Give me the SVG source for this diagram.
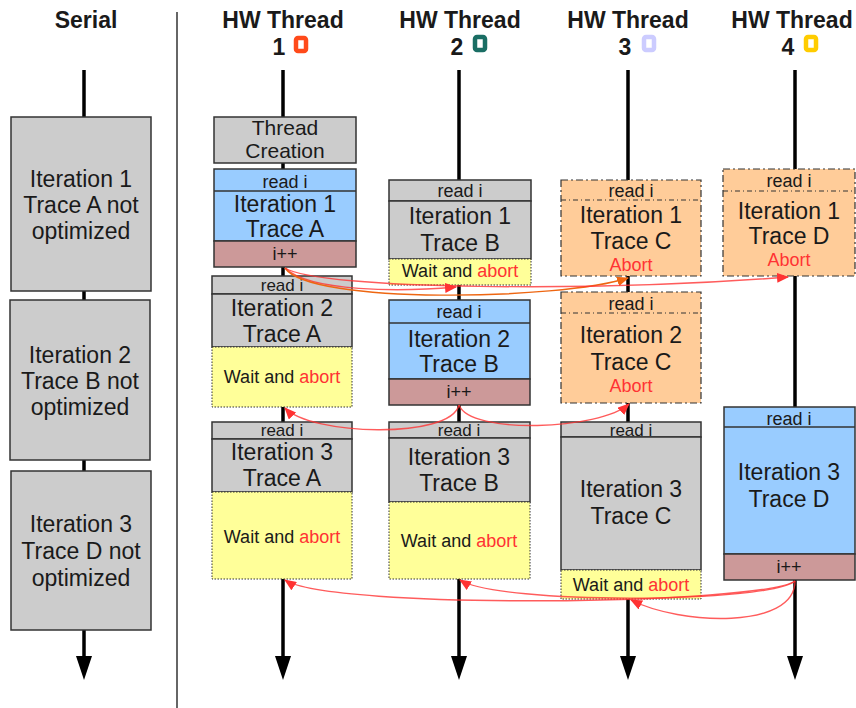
<svg xmlns="http://www.w3.org/2000/svg" width="856" height="708" viewBox="0 0 856 708">
<defs>
<style>
text{font-family:"Liberation Sans",Arial,sans-serif;fill:#1a1a1a;text-anchor:middle}
.h{font-size:23px;font-weight:bold}
.big{font-size:23px}
.mid{font-size:21px}
.sm{font-size:18px}
.xs{font-size:17px}
.red{fill:#ff3333}
.gray{fill:#cccccc;stroke:#333;stroke-width:1.5}
.blue{fill:#99ccff;stroke:#333;stroke-width:1.5}
.pink{fill:#cc9999;stroke:#333;stroke-width:1.5}
.yellow{fill:#ffff99;stroke:#333;stroke-width:1;stroke-dasharray:1.5,1.5}
.orange{fill:#ffcc99;stroke:#333;stroke-width:1.2;stroke-dasharray:7,3,2,3}
.div{stroke:#333;stroke-width:1.3}
.ddiv{stroke:#333;stroke-width:1;stroke-dasharray:5,3,1,3}
.tl{stroke:#000;stroke-width:3.5;fill:none}
.conn{fill:none;stroke:#ff3333;stroke-opacity:0.8;stroke-width:1.4}
.connO{fill:none;stroke:#ee6611;stroke-width:1.4}
.icon{fill:#fff;stroke-width:4.5}
</style>
<marker id="down" viewBox="0 0 24 16" refX="0" refY="8" markerWidth="24" markerHeight="16" markerUnits="userSpaceOnUse" orient="auto"><path d="M0,0 L24,8 L0,16 z" fill="#000"/></marker>
<marker id="ar" viewBox="0 0 12 10" refX="11" refY="5" markerWidth="12" markerHeight="10" markerUnits="userSpaceOnUse" orient="auto"><path d="M0,0 L12,5 L0,10 z" fill="#ff3333"/></marker>
<marker id="arO" viewBox="0 0 12 10" refX="11" refY="5" markerWidth="12" markerHeight="10" markerUnits="userSpaceOnUse" orient="auto"><path d="M0,0 L12,5 L0,10 z" fill="#ee6611"/></marker>
</defs>
<rect width="856" height="708" fill="#fff"/>

<!-- headers -->
<g id="headers">
<text class="h" x="86" y="28">Serial</text>
<text class="h" x="283" y="28">HW Thread</text>
<text class="h" x="279" y="55">1</text>
<rect class="icon" x="296" y="38" width="10" height="13" rx="2" stroke="#ff4a1a"/>
<text class="h" x="460" y="28">HW Thread</text>
<text class="h" x="457" y="55">2</text>
<rect class="icon" x="475" y="37" width="10" height="13" rx="2" stroke="#1a6e64"/>
<text class="h" x="628" y="28">HW Thread</text>
<text class="h" x="625" y="55">3</text>
<rect class="icon" x="644" y="37" width="10" height="13" rx="2" stroke="#ccccff"/>
<text class="h" x="792" y="28">HW Thread</text>
<text class="h" x="788" y="55">4</text>
<rect class="icon" x="806" y="37" width="10" height="13" rx="2" stroke="#ffcc00"/>
<line x1="177" y1="12" x2="177" y2="708" stroke="#333" stroke-width="1.5"/>
</g>

<!-- timelines -->
<g id="timelines">
<path class="tl" d="M84,70 V656" marker-end="url(#down)"/>
<path class="tl" d="M283,70 V656" marker-end="url(#down)"/>
<path class="tl" d="M459,70 V656" marker-end="url(#down)"/>
<path class="tl" d="M628,70 V656" marker-end="url(#down)"/>
<path class="tl" d="M795,70 V656" marker-end="url(#down)"/>
</g>

<!-- serial -->
<g id="serial1">
<rect class="gray" x="11" y="117" width="140" height="174"/>
<text class="big" x="81" y="187">Iteration 1</text>
<text class="big" x="81" y="213">Trace A not</text>
<text class="big" x="81" y="239">optimized</text>
</g>
<g id="serial2">
<rect class="gray" x="10" y="300" width="140" height="160"/>
<text class="big" x="80" y="363">Iteration 2</text>
<text class="big" x="80" y="389">Trace B not</text>
<text class="big" x="80" y="415">optimized</text>
</g>
<g id="serial3">
<rect class="gray" x="11" y="471" width="140" height="159"/>
<text class="big" x="81" y="532">Iteration 3</text>
<text class="big" x="81" y="559">Trace D not</text>
<text class="big" x="81" y="586">optimized</text>
</g>

<!-- thread 1 -->
<g id="t1-create">
<rect class="gray" x="214" y="117" width="142" height="46"/>
<text class="mid" x="285" y="135">Thread</text>
<text class="mid" x="285" y="158">Creation</text>
</g>
<g id="t1-it1">
<rect class="blue" x="214" y="169" width="142" height="72"/>
<line class="div" x1="214" y1="191" x2="356" y2="191"/>
<rect class="pink" x="214" y="241" width="142" height="26"/>
<text class="sm" x="285" y="188">read i</text>
<text class="big" x="285" y="212">Iteration 1</text>
<text class="big" x="285" y="237">Trace A</text>
<text class="sm" x="285" y="260">i++</text>
</g>
<g id="t1-it2">
<rect class="gray" x="212" y="276" width="140" height="18"/>
<rect class="gray" x="212" y="294" width="140" height="53"/>
<rect class="yellow" x="212" y="347" width="140" height="60"/>
<text class="xs" x="282" y="291">read i</text>
<text class="big" x="282" y="316">Iteration 2</text>
<text class="big" x="282" y="342">Trace A</text>
<text class="sm" x="282" y="383">Wait and <tspan class="red">abort</tspan></text>
</g>
<g id="t1-it3">
<rect class="gray" x="212" y="422" width="140" height="17"/>
<rect class="gray" x="212" y="439" width="140" height="53"/>
<rect class="yellow" x="212" y="492" width="140" height="87"/>
<text class="xs" x="282" y="436">read i</text>
<text class="big" x="282" y="460">Iteration 3</text>
<text class="big" x="282" y="486">Trace A</text>
<text class="sm" x="282" y="543">Wait and <tspan class="red">abort</tspan></text>
</g>

<!-- thread 2 -->
<g id="t2-it1">
<rect class="gray" x="389" y="180" width="142" height="21"/>
<rect class="gray" x="389" y="201" width="142" height="58"/>
<rect class="yellow" x="389" y="259" width="142" height="26"/>
<text class="sm" x="460" y="197">read i</text>
<text class="big" x="460" y="224">Iteration 1</text>
<text class="big" x="460" y="251">Trace B</text>
<text class="sm" x="460" y="277">Wait and <tspan class="red">abort</tspan></text>
</g>
<g id="t2-it2">
<rect class="blue" x="389" y="300" width="141" height="79"/>
<line class="div" x1="389" y1="323" x2="530" y2="323"/>
<rect class="pink" x="389" y="379" width="141" height="26"/>
<text class="sm" x="459" y="318">read i</text>
<text class="big" x="459" y="347">Iteration 2</text>
<text class="big" x="459" y="372">Trace B</text>
<text class="sm" x="459" y="398">i++</text>
</g>
<g id="t2-it3">
<rect class="gray" x="389" y="422" width="141" height="16"/>
<rect class="gray" x="389" y="438" width="141" height="64"/>
<rect class="yellow" x="389" y="502" width="141" height="77"/>
<text class="xs" x="459" y="436">read i</text>
<text class="big" x="459" y="465">Iteration 3</text>
<text class="big" x="459" y="491">Trace B</text>
<text class="sm" x="459" y="547">Wait and <tspan class="red">abort</tspan></text>
</g>

<!-- thread 3 -->
<g id="t3-it1">
<rect class="orange" x="561" y="180" width="140" height="96"/>
<line class="ddiv" x1="561" y1="200" x2="701" y2="200"/>
<text class="sm" x="631" y="197">read i</text>
<text class="big" x="631" y="223">Iteration 1</text>
<text class="big" x="631" y="249">Trace C</text>
<text class="sm red" x="631" y="271">Abort</text>
</g>
<g id="t3-it2">
<rect class="orange" x="561" y="292" width="140" height="111"/>
<line class="ddiv" x1="561" y1="313" x2="701" y2="313"/>
<text class="sm" x="631" y="310">read i</text>
<text class="big" x="631" y="343">Iteration 2</text>
<text class="big" x="631" y="370">Trace C</text>
<text class="sm red" x="631" y="392">Abort</text>
</g>
<g id="t3-it3">
<rect class="gray" x="561" y="422" width="140" height="15"/>
<rect class="gray" x="561" y="437" width="140" height="133"/>
<rect class="yellow" x="561" y="570" width="140" height="29"/>
<text class="xs" x="631" y="436">read i</text>
<text class="big" x="631" y="497">Iteration 3</text>
<text class="big" x="631" y="524">Trace C</text>
<text class="sm" x="631" y="591">Wait and <tspan class="red">abort</tspan></text>
</g>

<!-- thread 4 -->
<g id="t4-it1">
<rect class="orange" x="723" y="169" width="132" height="107"/>
<line class="ddiv" x1="723" y1="191" x2="855" y2="191"/>
<text class="sm" x="789" y="187">read i</text>
<text class="big" x="789" y="219">Iteration 1</text>
<text class="big" x="789" y="244">Trace D</text>
<text class="sm red" x="789" y="266">Abort</text>
</g>
<g id="t4-it3">
<rect class="blue" x="724" y="407" width="131" height="147"/>
<line class="div" x1="724" y1="427" x2="855" y2="427"/>
<rect class="pink" x="724" y="554" width="131" height="26"/>
<text class="sm" x="789" y="425">read i</text>
<text class="big" x="789" y="480">Iteration 3</text>
<text class="big" x="789" y="507">Trace D</text>
<text class="sm" x="789" y="573">i++</text>
</g>

<!-- connectors -->
<g id="connectors">
<path class="conn" d="M285,268 C310,292 400,292 456,287" marker-end="url(#ar)"/>
<path class="connO" d="M285,268 C310,305 560,300 628,278" marker-end="url(#arO)"/>
<path class="conn" d="M285,268 C320,290 600,292 788,277" marker-end="url(#ar)"/>
<path class="conn" d="M459,405 C450,440 310,435 285,408" marker-end="url(#ar)"/>
<path class="conn" d="M459,405 C470,435 600,430 629,404" marker-end="url(#ar)"/>
<path class="conn" d="M795,581 C760,605 330,610 285,580" marker-end="url(#ar)"/>
<path class="conn" d="M795,581 C770,603 500,605 460,580" marker-end="url(#ar)"/>
<path class="conn" d="M795,581 C795,630 680,625 631,600" marker-end="url(#ar)"/>
</g>
</svg>
